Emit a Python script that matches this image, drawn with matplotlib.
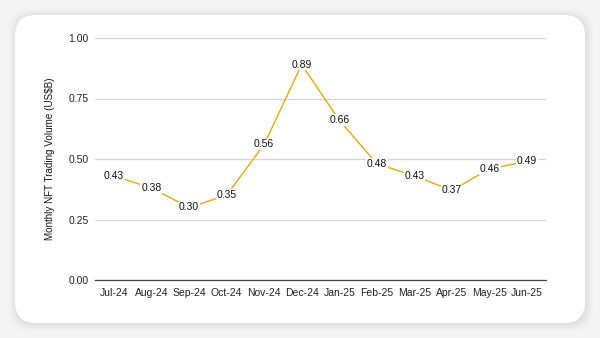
import matplotlib
matplotlib.use('Agg')
import matplotlib.pyplot as plt
from matplotlib.patches import FancyBboxPatch

plt.rcParams['font.family'] = ['Liberation Sans', 'DejaVu Sans']

months = ['Jul-24', 'Aug-24', 'Sep-24', 'Oct-24', 'Nov-24', 'Dec-24',
          'Jan-25', 'Feb-25', 'Mar-25', 'Apr-25', 'May-25', 'Jun-25']
volume = [0.43, 0.38, 0.30, 0.35, 0.56, 0.89, 0.66, 0.48, 0.43, 0.37, 0.46, 0.49]
yticks = [0.00, 0.25, 0.50, 0.75, 1.00]

W, H = 600, 338
fig = plt.figure(figsize=(6, 3.38), dpi=100)
fig.patch.set_facecolor('#f3f3f3')

# soft shadow + white card, kept behind the axes
for i, a in enumerate([0.015, 0.02, 0.03, 0.04, 0.05]):
    grow = (5 - i) * 1.4
    sh = FancyBboxPatch(((15 - grow + 1) / W, (15 - grow - 1) / H),
                        (570 + 2 * grow) / W, (308 + 2 * grow) / H,
                        boxstyle='round,pad=0,rounding_size=0.035',
                        transform=fig.transFigure, facecolor='#8a8a8a',
                        edgecolor='none', alpha=a, mutation_aspect=W / H, zorder=-10)
    fig.patches.append(sh)
card = FancyBboxPatch((15 / W, 15 / H), 570 / W, 308 / H,
                      boxstyle='round,pad=0,rounding_size=0.035',
                      transform=fig.transFigure, facecolor='white',
                      edgecolor='none', mutation_aspect=W / H, zorder=-5)
fig.patches.append(card)

ax = fig.add_axes([95 / W, (H - 280) / H, 451 / W, 242 / H])
ax.set_facecolor('none')
ax.set_zorder(5)
x = list(range(len(months)))
ax.plot(x, volume, color='#e3b024', linewidth=1.1, zorder=2)
for xi, v in zip(x, volume):
    ax.text(xi, v, '{:.2f}'.format(v), ha='center', va='center', fontsize=7.5,
            color='#111111', zorder=3,
            bbox=dict(boxstyle='square,pad=0.08', facecolor='white', edgecolor='none'))

ax.set_xlim(-0.5, len(months) - 0.5)
ax.set_ylim(0, 1.0)
ax.set_yticks(yticks)
ax.set_yticklabels(['{:.2f}'.format(t) for t in yticks])
ax.set_xticks(x)
ax.set_xticklabels(months)
ax.tick_params(axis='both', length=0, labelsize=7.5, colors='#222222')
ax.tick_params(axis='x', pad=6)
ax.tick_params(axis='y', pad=4.5)
ax.grid(axis='y', color='#d6d6d6', linewidth=0.9, zorder=0)
ax.set_axisbelow(True)
for s in ['top', 'right', 'left']:
    ax.spines[s].set_visible(False)
ax.spines['bottom'].set_color('#444444')
ax.spines['bottom'].set_linewidth(0.9)
ax.set_ylabel('Monthly NFT Trading Volume (US$B)', fontsize=7.1, color='#111111', labelpad=10)

fig.savefig('out.png', dpi=100, facecolor=fig.get_facecolor())
